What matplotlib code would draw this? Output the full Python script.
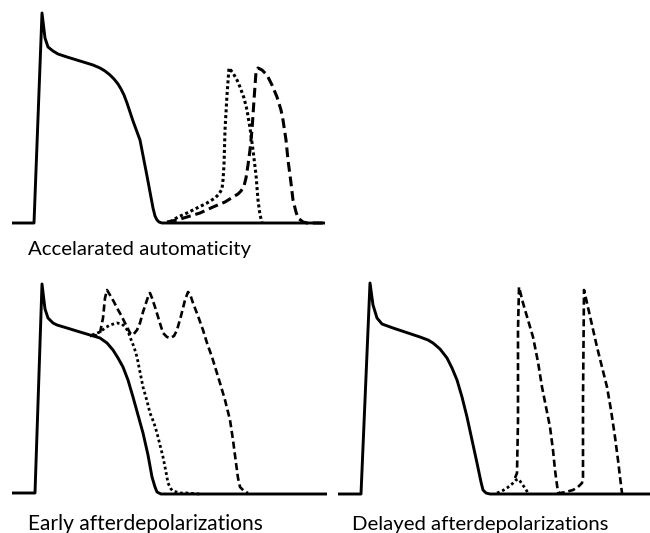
import matplotlib
matplotlib.use("Agg")
import matplotlib.pyplot as plt

# ---- data: traces (x, y in image pixel units) ----
# Panel A: accelerated automaticity
a_solid_x = [12, 34, 42, 45, 48, 53, 58, 67, 80, 93, 100, 105, 110, 114, 118, 121, 124, 127, 133, 140, 147, 153, 155, 157, 159, 162, 167, 325]
a_solid_y = [223, 223, 13, 38, 47, 51, 54, 57, 61, 65, 68, 71, 75, 79, 84, 89, 95, 103, 121, 140, 176, 208, 216, 220, 222, 223, 223, 223]
a_dot_x = [170, 178, 187, 197, 207, 215, 219, 222, 223, 224, 225, 227, 229, 233, 237, 240, 244, 247, 250, 253, 256, 258, 260, 262]
a_dot_y = [222, 217, 213, 208, 203, 198, 194, 189, 180, 165, 130, 95, 68, 73, 80, 87, 98, 110, 128, 150, 175, 200, 215, 222]
a_dash_x = [167, 177, 187, 200, 213, 225, 233, 238, 241, 244, 246, 248, 250, 252, 254, 256, 258, 262, 267, 272, 277, 281, 283, 286, 288, 291, 293, 296, 298, 303, 307, 325]
a_dash_y = [222, 220, 217, 213, 207, 202, 197, 194, 191, 186, 178, 165, 150, 130, 100, 72, 68, 70, 75, 85, 97, 110, 120, 140, 160, 183, 200, 212, 218, 222, 223, 223]

# Panel B: early afterdepolarizations
b_solid_x = [12, 35, 42, 45, 48, 53, 57, 67, 80, 90, 100, 107, 113, 118, 123, 128, 133, 138, 143, 148, 152, 155, 157, 161, 167, 327]
b_solid_y = [493, 493, 284, 309, 318, 323, 325, 328, 332, 335, 338, 343, 350, 358, 367, 380, 397, 415, 433, 455, 477, 487, 492, 494, 494, 494]
b_dot_x = [92, 100, 105, 110, 117, 122, 125, 128, 130, 134, 137, 140, 143, 147, 150, 154, 157, 160, 163, 166, 168, 171, 173, 180, 187, 200]
b_dot_y = [335, 332, 328, 325, 323, 324, 327, 331, 337, 347, 357, 372, 387, 401, 413, 423, 433, 445, 457, 472, 483, 489, 491, 493, 493, 494]
b_dash_x = [90, 97, 100, 103, 105, 107, 110, 114, 117, 121, 124, 127, 130, 133, 137, 140, 143, 147, 149, 150, 152, 155, 159, 163, 167, 170, 174, 177, 181, 185, 188, 190, 193, 198, 203, 207, 212, 216, 220, 225, 230, 233, 236, 238, 240, 244, 248]
b_dash_y = [336, 335, 333, 318, 298, 290, 295, 302, 308, 315, 321, 327, 333, 335, 330, 323, 312, 300, 294, 293, 298, 307, 320, 333, 337, 338, 336, 330, 316, 300, 292, 294, 303, 316, 330, 343, 357, 370, 383, 400, 420, 440, 463, 478, 487, 491, 493]

# Panel C: delayed afterdepolarizations
c_solid_x = [338, 361, 370, 373, 377, 382, 393, 405, 420, 428, 433, 440, 447, 452, 457, 462, 467, 472, 477, 481, 483, 486, 490, 650]
c_solid_y = [494, 494, 283, 305, 318, 324, 328, 332, 337, 340, 343, 349, 358, 368, 380, 397, 417, 440, 463, 482, 490, 493, 494, 494]
c_dot_x = [497, 502, 507, 512, 516, 518, 520, 522, 525, 528]
c_dot_y = [493, 491, 488, 484, 480, 479, 481, 484, 488, 493]
c_dash_x = [515, 517, 518, 518, 519, 523, 528, 533, 538, 542, 546, 550, 553, 555, 557, 558, 560, 566, 573, 578, 582, 583, 583, 584, 587, 592, 597, 602, 607, 611, 615, 618, 620, 622]
c_dash_y = [478, 473, 420, 330, 287, 303, 320, 337, 362, 387, 407, 427, 450, 470, 485, 492, 493, 492, 490, 487, 483, 477, 400, 290, 303, 325, 347, 367, 387, 410, 437, 460, 477, 493]

labels = ["Accelarated automaticity", "Early afterdepolarizations", "Delayed afterdepolarizations"]
label_x = [28, 28, 352]
label_y = [255, 530, 530]
label_w = [222, 235, 256]

W, H = 650, 533
fig = plt.figure(figsize=(W / 100, H / 100), dpi=100)
ax = fig.add_axes([0, 0, 1, 1])
ax.set_xlim(0, W)
ax.set_ylim(H, 0)
ax.axis("off")

lw_solid = 2.1
kw = dict(color="black", solid_joinstyle="round", solid_capstyle="butt")
dkw = dict(color="black", dash_capstyle="butt", dash_joinstyle="round")

ax.plot(a_solid_x, a_solid_y, lw=lw_solid, **kw)
ax.plot(a_dot_x, a_dot_y, lw=2.2, linestyle=(0, (1.0, 0.9)), **dkw)
ax.plot(a_dash_x, a_dash_y, lw=2.2, linestyle=(0, (3.2, 1.6)), **dkw)

ax.plot(b_solid_x, b_solid_y, lw=lw_solid, **kw)
ax.plot(b_dot_x, b_dot_y, lw=2.0, linestyle=(0, (1.0, 1.0)), **dkw)
ax.plot(b_dash_x, b_dash_y, lw=1.9, linestyle=(0, (2.7, 1.4)), **dkw)

ax.plot(c_solid_x, c_solid_y, lw=lw_solid, **kw)
ax.plot(c_dot_x, c_dot_y, lw=2.0, linestyle=(0, (1.0, 1.0)), **dkw)
ax.plot(c_dash_x, c_dash_y, lw=1.9, linestyle=(0, (2.7, 1.4)), **dkw)

fig.canvas.draw()
renderer = fig.canvas.get_renderer()
for txt, x, y, w in zip(labels, label_x, label_y, label_w):
    t = ax.text(x, y, txt, fontsize=12, family="Lato", ha="left", va="baseline", color="black")
    bb = t.get_window_extent(renderer)
    t.set_fontsize(12 * w / bb.width)

fig.savefig("out.png", dpi=100)
